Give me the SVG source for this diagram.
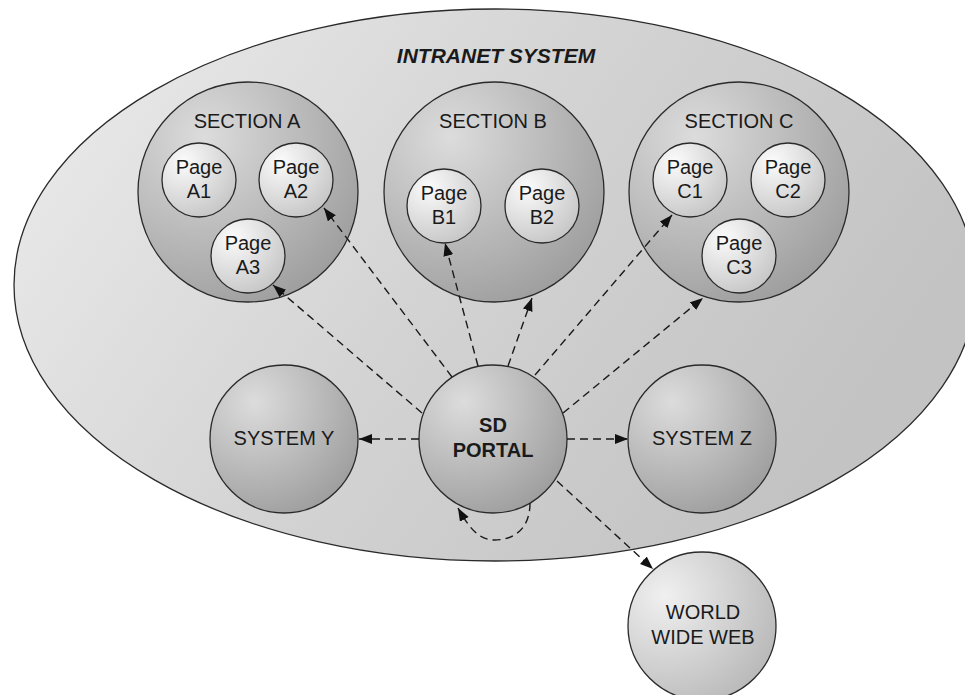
<svg xmlns="http://www.w3.org/2000/svg" width="965" height="695" viewBox="0 0 965 695">
  <defs>
    <linearGradient id="gIntranet" x1="0" y1="0" x2="1" y2="0.4">
      <stop offset="0" stop-color="#ededed"/>
      <stop offset="0.55" stop-color="#d3d3d3"/>
      <stop offset="1" stop-color="#c3c3c3"/>
    </linearGradient>
    <radialGradient id="gMid" cx="0.3" cy="0.25" r="0.85">
      <stop offset="0" stop-color="#dcdcdc"/>
      <stop offset="1" stop-color="#9c9c9c"/>
    </radialGradient>
    <radialGradient id="gPage" cx="0.3" cy="0.25" r="0.85">
      <stop offset="0" stop-color="#fbfbfb"/>
      <stop offset="1" stop-color="#c4c4c4"/>
    </radialGradient>
    <radialGradient id="gWeb" cx="0.25" cy="0.3" r="0.9">
      <stop offset="0" stop-color="#f0f0f0"/>
      <stop offset="1" stop-color="#b4b4b4"/>
    </radialGradient>
    <marker id="arrow" markerUnits="userSpaceOnUse" markerWidth="15" markerHeight="12" refX="13" refY="5" orient="auto">
      <path d="M0,0 L13,5 L0,10 z" fill="#111" stroke="none"/>
    </marker>
  </defs>
  <style>
    .outline { stroke: #2a2a2a; stroke-width: 1.3; }
    .mid { fill: url(#gMid); }
    .page { fill: url(#gPage); }
    .web { fill: url(#gWeb); }
    text { font-family: "Liberation Sans", Arial, sans-serif; font-size: 20px; fill: #1a1a1a; text-anchor: middle; }
    .bold { font-weight: bold; }
    .title { font-weight: bold; font-style: italic; font-size: 21px; }
    .link { fill: none; stroke: #1a1a1a; stroke-width: 1.4; stroke-dasharray: 8 5; marker-end: url(#arrow); }
  </style>

  <rect width="965" height="695" fill="#ffffff"/>

  <!-- outer intranet boundary -->
  <g id="intranet">
    <ellipse cx="495" cy="285" rx="481" ry="276" fill="url(#gIntranet)" class="outline"/>
    <text class="title" x="496" y="63">INTRANET SYSTEM</text>
  </g>

  <g id="section-a">
    <circle cx="248" cy="192" r="110" class="mid outline"/>
    <text x="247" y="128">SECTION A</text>
  </g>
  <g id="page-a1">
    <circle cx="199" cy="180" r="37" class="page outline"/>
    <text x="199" y="174">Page</text><text x="199" y="198">A1</text>
  </g>
  <g id="page-a2">
    <circle cx="296" cy="180" r="37" class="page outline"/>
    <text x="296" y="174">Page</text><text x="296" y="198">A2</text>
  </g>
  <g id="page-a3">
    <circle cx="248" cy="256" r="37" class="page outline"/>
    <text x="248" y="250">Page</text><text x="248" y="274">A3</text>
  </g>

  <g id="section-b">
    <circle cx="494" cy="192" r="110" class="mid outline"/>
    <text x="493" y="128">SECTION B</text>
  </g>
  <g id="page-b1">
    <circle cx="444" cy="206" r="37" class="page outline"/>
    <text x="444" y="200">Page</text><text x="444" y="224">B1</text>
  </g>
  <g id="page-b2">
    <circle cx="542" cy="206" r="37" class="page outline"/>
    <text x="542" y="200">Page</text><text x="542" y="224">B2</text>
  </g>

  <g id="section-c">
    <circle cx="739" cy="192" r="110" class="mid outline"/>
    <text x="739" y="128">SECTION C</text>
  </g>
  <g id="page-c1">
    <circle cx="690" cy="180" r="37" class="page outline"/>
    <text x="690" y="174">Page</text><text x="690" y="198">C1</text>
  </g>
  <g id="page-c2">
    <circle cx="788" cy="180" r="37" class="page outline"/>
    <text x="788" y="174">Page</text><text x="788" y="198">C2</text>
  </g>
  <g id="page-c3">
    <circle cx="739" cy="256" r="37" class="page outline"/>
    <text x="739" y="250">Page</text><text x="739" y="274">C3</text>
  </g>

  <g id="system-y">
    <circle cx="284" cy="439" r="74" class="mid outline"/>
    <text x="284" y="445">SYSTEM Y</text>
  </g>
  <g id="sd-portal">
    <circle cx="493" cy="439" r="74" class="mid outline"/>
    <text class="bold" x="493" y="432">SD</text>
    <text class="bold" x="493" y="457">PORTAL</text>
  </g>
  <g id="system-z">
    <circle cx="702" cy="439" r="74" class="mid outline"/>
    <text x="702" y="445">SYSTEM Z</text>
  </g>
  <g id="world-wide-web">
    <circle cx="702" cy="626" r="74" class="web outline"/>
    <text x="703" y="619">WORLD</text>
    <text x="703" y="644">WIDE WEB</text>
  </g>

  <!-- dashed links leaving the portal -->
  <g id="connectors">
    <path class="link" d="M422,413 L273,285"/>
    <path class="link" d="M452,377 L324,208"/>
    <path class="link" d="M478,366 L445,243"/>
    <path class="link" d="M508,366 L532,298"/>
    <path class="link" d="M535,375 L672,215"/>
    <path class="link" d="M563,413 L703,298"/>
    <path class="link" d="M419,439 L359,439"/>
    <path class="link" d="M567,439 L628,439"/>
    <path class="link" d="M557,481 L653,569"/>
    <path class="link" d="M530,503 C530,528 515,540 494,540 C478,540 468,526 458,508"/>
  </g>
</svg>
